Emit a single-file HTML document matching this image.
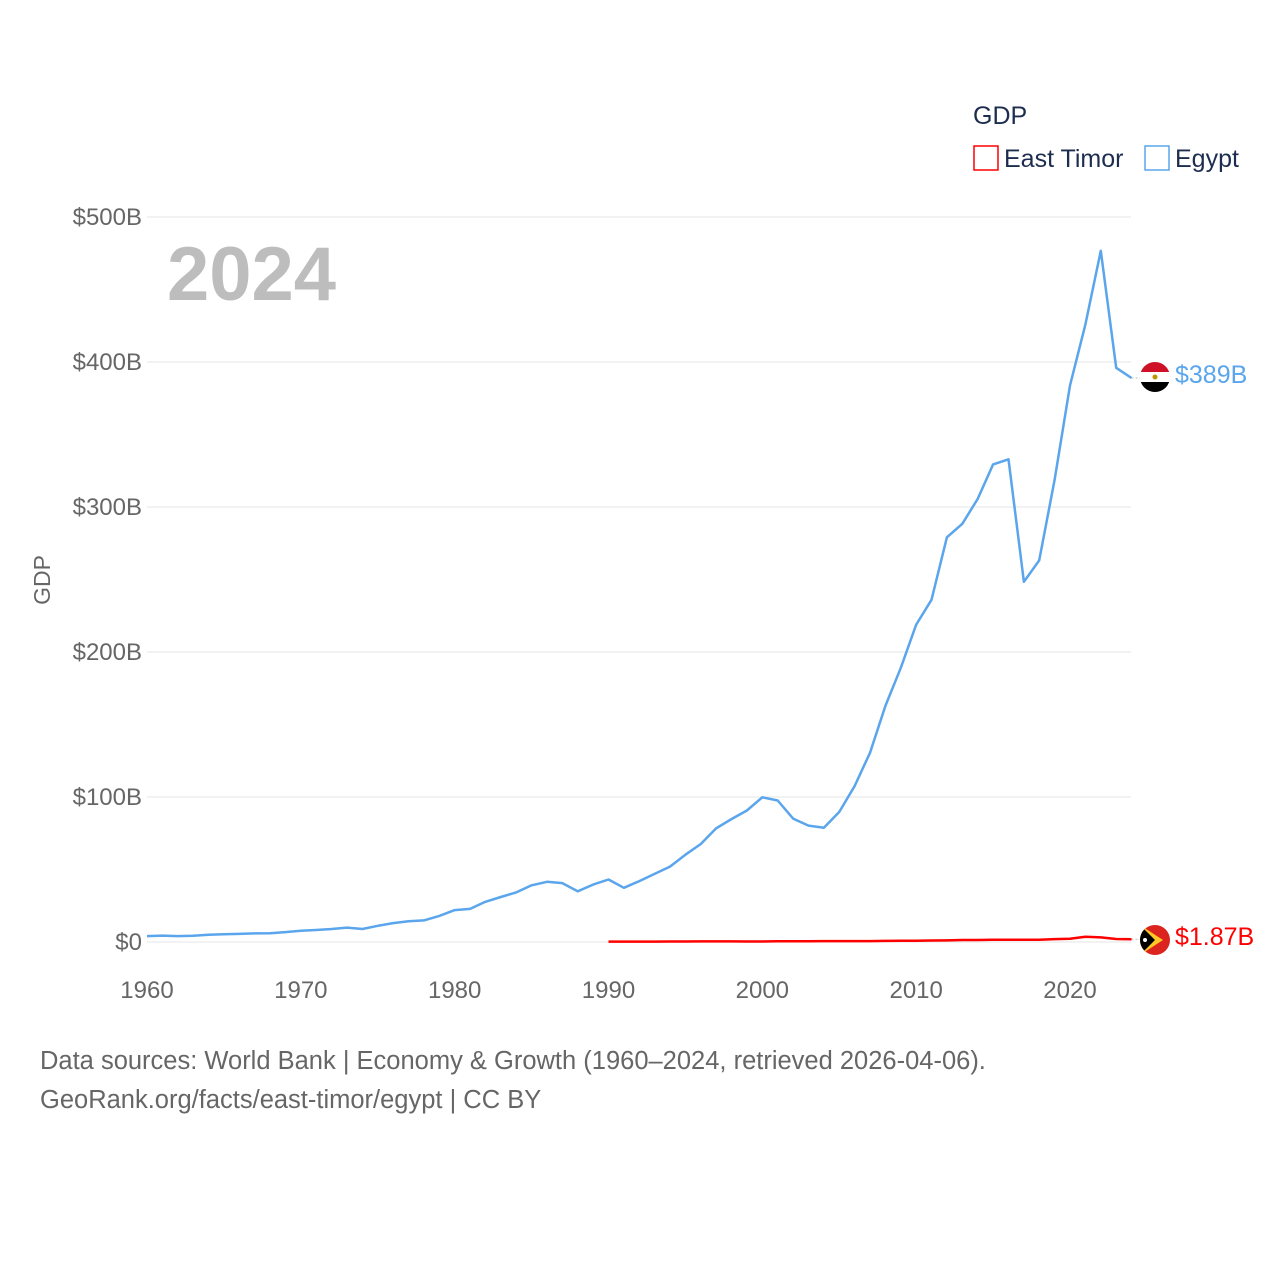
<!DOCTYPE html>
<html><head><meta charset="utf-8"><style>
body{margin:0;background:#fff;width:1280px;height:1280px;overflow:hidden;font-family:"Liberation Sans",sans-serif}
</style></head><body>
<svg id="chart" width="1280" height="1280" xmlns="http://www.w3.org/2000/svg" font-family="Liberation Sans, sans-serif">
<g id="grid"></g>
<g id="yticks"></g>
<g id="xticks"></g>
<text x="167" y="300" font-size="76" font-weight="bold" fill="#bdbdbd">2024</text>
<text transform="translate(50,580) rotate(-90)" text-anchor="middle" font-size="23" fill="#666">GDP</text>
<g>
<text x="973" y="124" font-size="25" fill="#1d2d4f">GDP</text>
<g><rect x="974" y="146" width="24" height="24" fill="none" stroke="#ff0000" stroke-width="1.5"/><text x="1004" y="167" font-size="25" fill="#1d2d4f">East Timor</text></g>
<g><rect x="1145" y="146" width="24" height="24" fill="none" stroke="#5aa5ec" stroke-width="1.5"/><text x="1175" y="167" font-size="25" fill="#1d2d4f">Egypt</text></g>
</g>
<g id="series"></g>
<g>
<clipPath id="c1"><circle cx="1155" cy="377" r="15"/></clipPath>
<g clip-path="url(#c1)"><rect x="1140" y="362" width="30" height="10" fill="#ce1126"/><rect x="1140" y="372" width="30" height="10" fill="#fff"/><rect x="1140" y="382" width="30" height="10" fill="#000"/><circle cx="1155" cy="377" r="2.5" fill="#c09300"/></g>
</g>
<g>
<clipPath id="c2"><circle cx="1155" cy="940" r="15"/></clipPath>
<g clip-path="url(#c2)"><rect x="1140" y="925" width="30" height="30" fill="#dc241f"/><polygon points="1140,925 1163,940 1140,955" fill="#ffc726"/><polygon points="1140,925 1155,940 1140,955" fill="#000"/><circle cx="1145" cy="940" r="2" fill="#fff"/></g>
</g>
<text x="1175" y="383" font-size="25" fill="#5aa5ec">$389B</text>
<text x="1175" y="945" font-size="25" fill="#ff0000">$1.87B</text>
<text x="40" y="1069" font-size="25.5" fill="#666">Data sources: World Bank | Economy &amp; Growth (1960–2024, retrieved 2026-04-06).</text>
<text x="40" y="1108" font-size="25.5" fill="#666">GeoRank.org/facts/east-timor/egypt | CC BY</text>
</svg>
<script>
const egyptYears=[];for(let y=1960;y<=2024;y++)egyptYears.push(y);
const egyptValues=[4.1,4.4,4.1,4.3,5.0,5.3,5.6,5.9,6.1,6.8,7.8,8.3,9.0,9.9,9.0,11.2,13.0,14.3,14.9,18.0,22.0,22.8,27.7,31.0,34.2,39.1,41.5,40.6,35.0,39.6,43.1,37.4,42.0,47.0,52.0,60.2,67.6,78.4,84.8,90.7,99.8,97.6,85.1,80.3,78.8,89.7,107.5,130.5,162.8,189.1,218.9,236.0,279.1,288.4,305.6,329.4,332.9,248.4,263.2,318.7,383.8,425.9,476.7,396.0,389];
const timorYears=[];for(let y=1990;y<=2024;y++)timorYears.push(y);
const timorValues=[0.3,0.3,0.3,0.3,0.35,0.35,0.4,0.4,0.4,0.35,0.37,0.45,0.56,0.55,0.6,0.6,0.6,0.65,0.75,0.85,0.9,1.0,1.1,1.4,1.4,1.6,1.6,1.6,1.6,2.0,2.2,3.6,3.2,2.1,1.87];
const yTicks=[0,100,200,300,400,500];
const yTickLabels=["$0","$100B","$200B","$300B","$400B","$500B"];
const xTicks=[1960,1970,1980,1990,2000,2010,2020];
const NS="http://www.w3.org/2000/svg";
const xs=y=>147+(y-1960)*(923/60);
const ys=v=>942-v*1.45;
function el(t,a,p){const e=document.createElementNS(NS,t);for(const k in a)e.setAttribute(k,a[k]);p.appendChild(e);return e;}
const grid=document.getElementById('grid'),yt=document.getElementById('yticks'),xt=document.getElementById('xticks'),ser=document.getElementById('series');
yTicks.forEach((v,i)=>{
 const l=el('line',{x1:147,x2:1131,y1:ys(v),y2:ys(v),stroke:'#e6e6e6','stroke-width':1},grid);
 
 
 const t=el('text',{x:142,y:ys(v)+8,'text-anchor':'end','font-size':24,fill:'#666'},yt);
 t.textContent=yTickLabels[i];
 
 
});
xTicks.forEach(v=>{
 const t=el('text',{x:xs(v),y:998,'text-anchor':'middle','font-size':24,fill:'#666'},xt);
 t.textContent=v;
 
 
});
function line(years,vals,color,name){
 const d=years.map((y,i)=>(i?'L':'M')+xs(y).toFixed(1)+','+ys(vals[i]).toFixed(1)).join('');
 const p=el('path',{d:d,fill:'none',stroke:color,'stroke-width':2.5,'stroke-linejoin':'round'},ser);
 
 
 const last=years.length-1;
 const c=el('line',{x1:xs(years[last]),y1:ys(vals[last]),x2:1140,y2:ys(vals[last]),stroke:'#bbb','stroke-width':1,'stroke-dasharray':'2,2'},ser);
 
 
}
line(egyptYears,egyptValues,'#5aa5ec','egypt-line');
line(timorYears,timorValues,'#ff0000','east-timor-line');
</script>
</body></html>
